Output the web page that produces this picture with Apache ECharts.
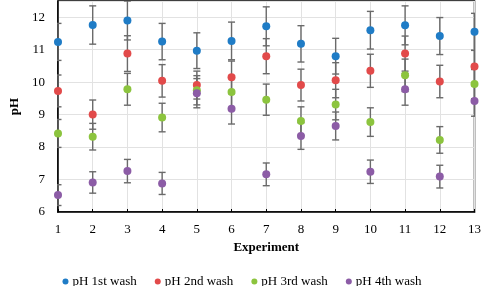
<!DOCTYPE html>
<html>
<head>
<meta charset="utf-8">
<script src="https://cdn.jsdelivr.net/npm/echarts@6/dist/echarts.min.js"></script>
<style>html,body{margin:0;padding:0;background:#fff;}#c{width:484px;height:286px;}</style>
</head>
<body>
<div id="c"></div>
<script>
const experiments = [1, 2, 3, 4, 5, 6, 7, 8, 9, 10, 11, 12, 13];
const seriesNames = ['pH 1st wash', 'pH 2nd wash', 'pH 3rd wash', 'pH 4th wash'];
const wash1 = [11.24, 11.76, 11.90, 11.25, 10.97, 11.27, 11.72, 11.18, 10.80, 11.60, 11.75, 11.42, 11.55];
const err1  = [0.57, 0.59, 0.60, 0.56, 0.55, 0.58, 0.60, 0.56, 0.55, 0.58, 0.60, 0.57, 0.57];
const wash2 = [9.73, 9.00, 10.88, 10.04, 9.91, 10.15, 10.80, 9.91, 10.06, 10.35, 10.88, 10.02, 10.48];
const err2  = [0.49, 0.45, 0.55, 0.50, 0.43, 0.50, 0.54, 0.49, 0.54, 0.51, 0.54, 0.50, 0.50];
const wash3 = [8.42, 8.32, 9.78, 8.91, 9.75, 9.70, 9.46, 8.80, 9.31, 8.77, 10.21, 8.22, 9.94];
const err3  = [0.43, 0.41, 0.49, 0.44, 0.45, 0.50, 0.48, 0.44, 0.47, 0.44, 0.50, 0.41, 0.45];
const wash4 = [6.52, 6.91, 7.26, 6.88, 9.66, 9.18, 7.16, 8.34, 8.65, 7.24, 9.78, 7.09, 9.42];
const err4  = [0.32, 0.33, 0.36, 0.34, 0.45, 0.47, 0.35, 0.41, 0.43, 0.36, 0.49, 0.35, 0.47];
const colors = ['#1f7cc6', '#e24a4a', '#8cc43e', '#8c5ca6'];

const values = [wash1, wash2, wash3, wash4];
const errors = [err1, err2, err3, err4];
const FONT = '"Liberation Serif", "Times New Roman", serif';

function errRender(params, api) {
  const x = api.value(0), v = api.value(1), e = api.value(2);
  const t = api.coord([x, v + e]);
  const b = api.coord([x, v - e]);
  const w = 3.5;
  const st = { stroke: '#6a6a6a', lineWidth: 1.4 };
  return {
    type: 'group',
    children: [
      { type: 'line', shape: { x1: t[0], y1: t[1], x2: b[0], y2: b[1] }, style: st },
      { type: 'line', shape: { x1: t[0] - w, y1: t[1], x2: t[0] + w, y2: t[1] }, style: st },
      { type: 'line', shape: { x1: b[0] - w, y1: b[1], x2: b[0] + w, y2: b[1] }, style: st }
    ]
  };
}

const series = [];
values.forEach((vals, i) => {
  series.push({
    type: 'custom',
    renderItem: errRender,
    clip: true,
    z: 2,
    silent: true,
    encode: { x: 0, y: 1 },
    data: experiments.map((x, k) => [x, vals[k], errors[i][k]])
  });
});
values.forEach((vals, i) => {
  series.push({
    name: seriesNames[i],
    type: 'scatter',
    symbol: 'circle',
    symbolSize: 8,
    z: 5,
    itemStyle: { color: colors[i], opacity: 1 },
    data: experiments.map((x, k) => [x, vals[k]])
  });
});

const chart = echarts.init(document.getElementById('c'), null, { renderer: 'canvas' });
chart.setOption({
  animation: false,
  backgroundColor: '#fff',
  color: colors,
  grid: { left: 50, right: 6, top: 1, bottom: 74, show: true, borderColor: '#000', borderWidth: 1.5, backgroundColor: 'transparent' },
  legend: {
    data: seriesNames,
    top: 270,
    left: 'center',
    icon: 'circle',
    itemWidth: 6,
    itemHeight: 6,
    itemGap: 18,
    textStyle: { fontFamily: FONT, fontSize: 13, color: '#000', padding: [0, 0, 0, -1] }
  },
  xAxis: {
    type: 'value',
    min: 1, max: 13, interval: 1,
    name: 'Experiment',
    nameLocation: 'middle',
    nameGap: 28,
    nameTextStyle: { fontFamily: FONT, fontSize: 13, fontWeight: 'bold', color: '#000' },
    axisLine: { show: true, lineStyle: { color: '#000', width: 1.5 } },
    axisTick: { show: true, inside: true, length: 3, lineStyle: { color: '#000' } },
    axisLabel: { fontFamily: FONT, fontSize: 13, color: '#000', margin: 11 },
    splitLine: { show: true, lineStyle: { color: '#e2e2e2', width: 1 } }
  },
  yAxis: {
    type: 'value',
    min: 6, max: 12.5, interval: 1,
    name: 'pH',
    nameLocation: 'middle',
    nameGap: 37,
    nameRotate: 90,
    nameTextStyle: { fontFamily: FONT, fontSize: 13, fontWeight: 'bold', color: '#000' },
    axisLine: { show: true, lineStyle: { color: '#000', width: 1.5 } },
    axisTick: { show: false },
    axisLabel: { fontFamily: FONT, fontSize: 13, color: '#000', margin: 13, showMaxLabel: false,
      formatter: v => (Number.isInteger(v) ? String(v) : '') },
    splitLine: { show: true, lineStyle: { color: '#e2e2e2', width: 1 } }
  },
  series: series
});
</script>
</body>
</html>
